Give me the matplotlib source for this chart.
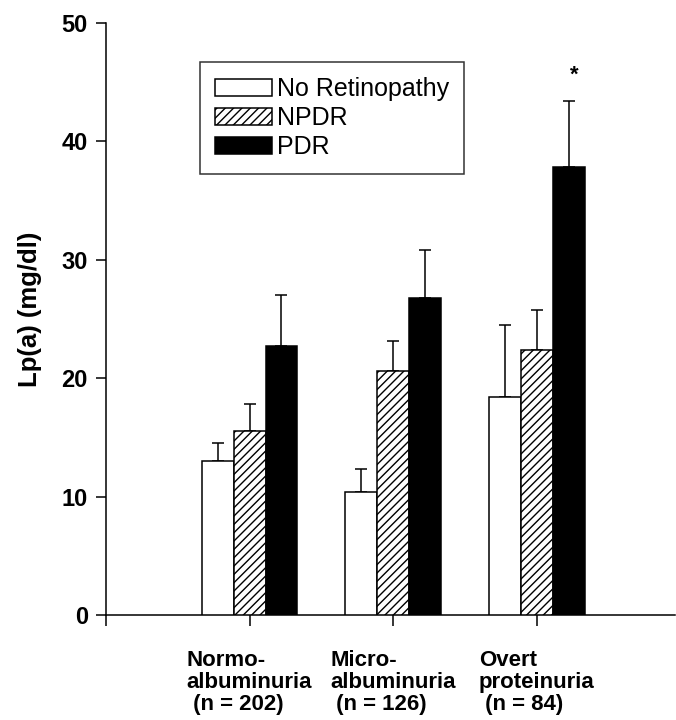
import matplotlib
matplotlib.use("Agg")
import matplotlib.pyplot as plt
import numpy as np

plt.rcParams['font.family'] = ['Liberation Sans', 'DejaVu Sans']
plt.rcParams['hatch.linewidth'] = 1.0

categories = ["Normo-\nalbuminuria\n (n = 202)", "Micro-\nalbuminuria\n (n = 126)", "Overt\nproteinuria\n (n = 84)"]
series = ["No Retinopathy", "NPDR", "PDR"]
means = {
    "No Retinopathy": [13.0, 10.4, 18.4],
    "NPDR": [15.5, 20.6, 22.4],
    "PDR": [22.7, 26.8, 37.8],
}
errs = {
    "No Retinopathy": [1.5, 1.9, 6.1],
    "NPDR": [2.3, 2.5, 3.4],
    "PDR": [4.3, 4.0, 5.6],
}
yticks = [0, 10, 20, 30, 40, 50]

fig = plt.figure(figsize=(6.76, 7.2), dpi=100)
ax = fig.add_axes([106/676, 105/720, 1 - 106/676 - 0.002, (615-23)/720])

x = np.arange(len(categories))
w = 0.222
styles = {
    "No Retinopathy": dict(facecolor="white", edgecolor="black", hatch=None),
    "NPDR": dict(facecolor="white", edgecolor="black", hatch="////"),
    "PDR": dict(facecolor="black", edgecolor="black", hatch=None),
}
for i, s in enumerate(series):
    pos = x + (i - 1) * w
    ax.bar(pos, means[s], width=w, linewidth=1.1, label=s, zorder=3, **styles[s])
    ax.errorbar(pos, means[s], yerr=[np.zeros(len(pos)), errs[s]], fmt="none",
                ecolor="black", elinewidth=1.1, capsize=4.3, capthick=1.1, zorder=2)

ax.text(x[2] + w + 0.04, means["PDR"][2] + errs["PDR"][2] + 2.2, "*", ha="center", va="center",
        fontsize=16, fontweight="bold")

ax.set_xlim(-1.0, 2.96)
ax.set_ylim(0, 50)
ax.spines["top"].set_visible(False)
ax.spines["right"].set_visible(False)
for sp in ("left", "bottom"):
    ax.spines[sp].set_linewidth(1.1)

ax.set_yticks(yticks)
ax.set_yticklabels([str(v) for v in yticks], fontsize=17, fontweight="bold")
ax.tick_params(axis="y", direction="out", length=7, width=1.1, pad=6)

ax.set_xticks(list(x) + [-1.0])
ax.set_xticklabels(categories + [""], fontsize=16, fontweight="bold", linespacing=1.08)
for lab in ax.get_xticklabels():
    lab.set_multialignment("left")
ax.tick_params(axis="x", direction="out", length=8, width=1.1, pad=17)

ax.set_ylabel("Lp(a) (mg/dl)", fontsize=18.5, fontweight="bold")
ax.yaxis.set_label_coords(-0.113, 0.517)

leg = ax.legend(loc="upper left", bbox_to_anchor=(0.165, 0.934), borderaxespad=0,
                fontsize=18, frameon=True, fancybox=False, edgecolor="black",
                handlelength=2.3, handleheight=0.7, handletextpad=0.2,
                labelspacing=0.2, borderpad=0.6)
leg.get_frame().set_linewidth(1.1)

fig.savefig("out.png", dpi=100, facecolor="white")
